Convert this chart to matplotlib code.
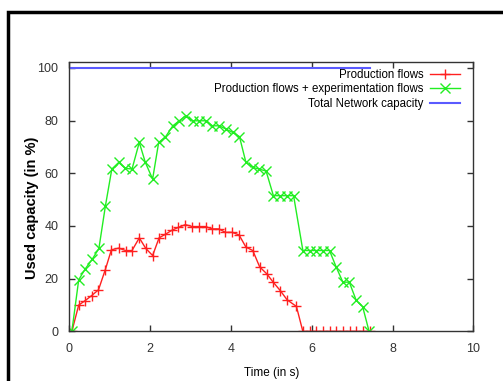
import matplotlib.pyplot as plt
from matplotlib.patches import Rectangle

plt.rcParams['font.family'] = ['Liberation Sans', 'DejaVu Sans']

# Production flows (red +)
t_prod = [0.06, 0.23, 0.39, 0.55, 0.72, 0.89, 1.04, 1.22, 1.39, 1.55, 1.73, 1.89,
          2.06, 2.22, 2.37, 2.54, 2.70, 2.87, 3.04, 3.20, 3.37, 3.53, 3.70, 3.86,
          4.03, 4.20, 4.37, 4.54, 4.71, 4.89, 5.04, 5.22, 5.39, 5.62, 5.78, 5.95,
          6.11, 6.28, 6.44, 6.61, 6.77, 6.94, 7.10, 7.27, 7.43]
prod = [0, 10, 11.7, 13.6, 15.8, 23.5, 31, 31.6, 30.7, 30.7, 35.5, 31.5,
        28.8, 35.5, 36.8, 38.4, 39.5, 40.5, 39.8, 39.8, 39.8, 38.9, 38.9, 37.6,
        37.6, 36.6, 32, 30.7, 24.5, 21.8, 18.8, 15.5, 12, 9.5, 0, 0,
        0, 0, 0, 0, 0, 0, 0, 0, 0]

# Production + experimentation flows (green x)
t_exp = [0.06, 0.23, 0.39, 0.57, 0.73, 0.89, 1.05, 1.22, 1.38, 1.55, 1.73, 1.88,
         2.06, 2.21, 2.37, 2.56, 2.72, 2.88, 3.05, 3.21, 3.38, 3.54, 3.71, 3.87,
         4.04, 4.21, 4.37, 4.54, 4.70, 4.87, 5.05, 5.22, 5.39, 5.55, 5.78, 5.95,
         6.11, 6.28, 6.44, 6.60, 6.77, 6.93, 7.10, 7.26, 7.42]
prod_exp = [0, 19.6, 23.7, 27.5, 31.5, 47.5, 61.6, 64.1, 61.9, 61.6, 71.7, 64.1,
            57.8, 71.7, 73.6, 78, 79.9, 81.8, 79.9, 79.9, 79.9, 78, 78, 76.8,
            75.5, 73.9, 64.1, 62.2, 61.6, 60.8, 51.5, 51.5, 51.5, 51.5, 30.7, 30.7,
            30.7, 30.7, 30.7, 24.6, 18.7, 18.7, 11.8, 9.4, 0]

# Total network capacity (blue)
t_cap = [0, 7.43]
cap = [100, 100]

fig = plt.figure(figsize=(5.03, 3.81), dpi=100)
ax = fig.add_axes([0.138, 0.13, 0.803, 0.708])

ax.plot(t_prod, prod, color='#ff2020', lw=1, marker='+', ms=7.5, mew=1,
        label='Production flows')
ax.plot(t_exp, prod_exp, color='#22ee22', lw=1, marker='x', ms=7.5, mew=1,
        label='Production flows + experimentation flows')
ax.plot(t_cap, cap, color='#5a5aff', lw=1.5, label='Total Network capacity')

ax.set_xlim(0, 10)
ax.set_ylim(0, 102.3)
ax.set_xticks([0, 2, 4, 6, 8, 10])
ax.set_yticks([0, 20, 40, 60, 80, 100])
ax.tick_params(direction='in', length=4, width=1, top=True, right=True,
               labelsize=9, labelcolor='#333333', color='#333333')
ax.tick_params(axis='y', pad=8)
ax.tick_params(axis='x', pad=8)
for s in ax.spines.values():
    s.set_color('#333333')
    s.set_linewidth(1)

ax.set_xlabel('Time (in s)', fontsize=8.5, labelpad=9)
ax.set_ylabel('Used capacity (in %)', fontsize=10.5, fontweight='semibold')
ax.yaxis.set_label_coords(-0.075, 0.46)

ax.legend(loc='upper right', bbox_to_anchor=(0.985, 1.0), frameon=False,
          markerfirst=False, fontsize=8.3, handlelength=2.6, labelspacing=0.22,
          handletextpad=0.6, borderaxespad=0.2)

# outer frame around the figure
fig.patches.append(Rectangle((0.016, -0.05), 1.2, 1.0185, transform=fig.transFigure,
                             fill=False, edgecolor='black', lw=2.5, clip_on=False))

plt.savefig('out.png', dpi=100)
